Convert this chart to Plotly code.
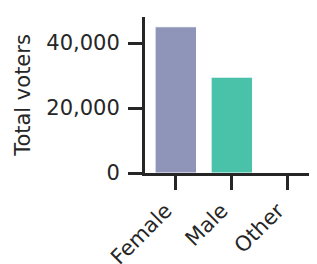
import plotly.graph_objects as go

categories = ["Female", "Male", "Other"]
voters = [45000, 29500, 0]
colors = ["#8f94b9", "#4ac2aa", "#e07a5f"]

fig = go.Figure(go.Bar(
    x=categories, y=voters,
    marker=dict(color=colors, line=dict(color="white", width=1)),
    width=0.74,
))

axis_color = "#262626"
tick_font = dict(family="DejaVu Sans", size=21, color=axis_color)

# page body has an 8px default margin; compensate so the plot sits where the reference does
fig.update_layout(
    width=309, height=256,
    margin=dict(l=137, r=0, t=9, b=91),
    plot_bgcolor="white", paper_bgcolor="white",
    font=tick_font,
    showlegend=False,
    xaxis=dict(
        range=[-0.55, 2.52], showline=True, linewidth=3, linecolor=axis_color,
        ticks="outside", ticklen=14, tickwidth=3, tickcolor=axis_color,
        tickangle=-45, showgrid=False, zeroline=False, automargin=False,
        tickfont=tick_font, ticklabelshift=-10,
    ),
    yaxis=dict(
        range=[0, 48000], showline=True, linewidth=3, linecolor=axis_color,
        ticks="outside", ticklen=14, tickwidth=3, tickcolor=axis_color,
        tickvals=[0, 20000, 40000], tickformat=",d", showgrid=False, zeroline=False,
        automargin=False, tickfont=tick_font, ticklabelstandoff=4,
        title=dict(text="Total voters", standoff=10,
                   font=dict(family="DejaVu Sans", size=21, color=axis_color)),
    ),
)

fig.write_html("out.html")
